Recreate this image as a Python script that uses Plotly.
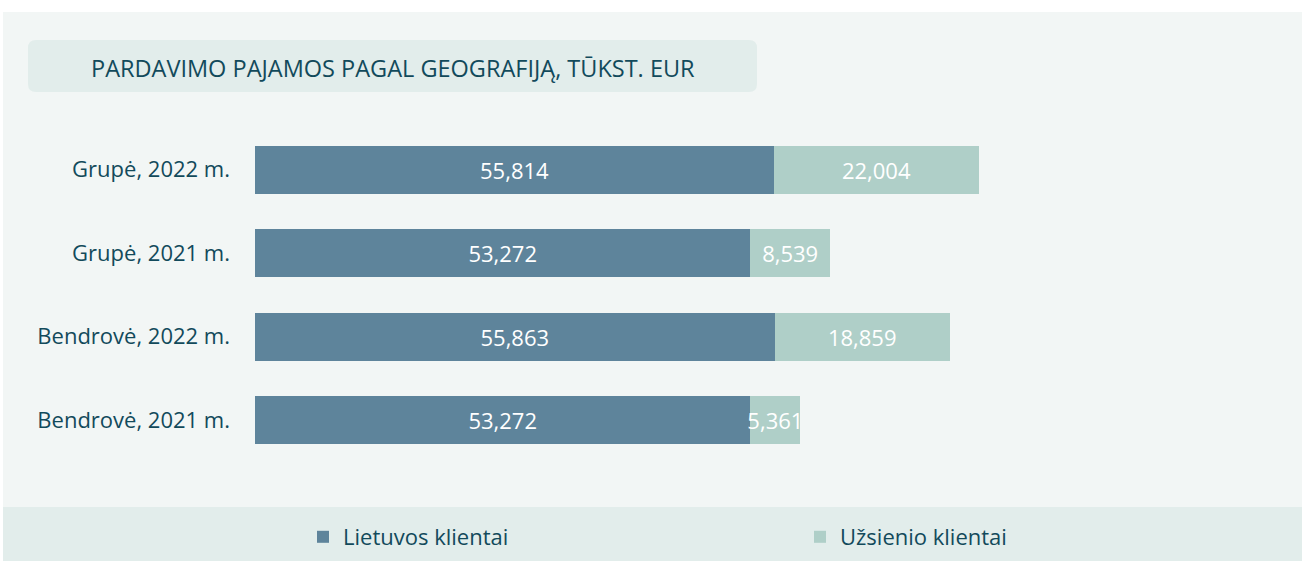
import plotly.graph_objects as go

categories = ["Grupė, 2022 m.", "Grupė, 2021 m.", "Bendrovė, 2022 m.", "Bendrovė, 2021 m."]
lietuvos = [55814, 53272, 55863, 53272]
uzsienio = [22004, 8539, 18859, 5361]
series_names = ["Lietuvos klientai", "Užsienio klientai"]
title_text = "PARDAVIMO PAJAMOS PAGAL GEOGRAFIJĄ, TŪKST. EUR"

W, H = 1302, 561
ML, MR = 255, 24
PW = W - ML - MR
PLOT_TOP, PLOT_BOT = 128, 462   # pixel rows occupied by the bar area

def px(x):
    return (x - ML) / PW

def py(y):
    return (H - y) / H

FONT = "Open Sans"
TXT = "#124a5b"
DARK = "#5e849b"
LIGHT = "#afcfc8"
PANEL = "#f2f6f5"
BAND = "#e2edeb"

fig = go.Figure()
for name, vals, col in [(series_names[0], lietuvos, DARK), (series_names[1], uzsienio, LIGHT)]:
    fig.add_trace(go.Bar(
        y=categories, x=vals, name=name, orientation="h",
        marker=dict(color=col, line=dict(width=0)),
        text=[f"{v:,}" for v in vals], textposition="inside",
        insidetextanchor="middle", constraintext="none",
        textfont=dict(color="white", size=22, family=FONT),
        hoverinfo="skip",
    ))

# rounded title box path
x0, x1, y0, y1 = px(28), px(757), py(92), py(40)
rx, ry = 8 / PW, 8 / H
path = (f"M {x0+rx},{y0} L {x1-rx},{y0} Q {x1},{y0} {x1},{y0+ry} "
        f"L {x1},{y1-ry} Q {x1},{y1} {x1-rx},{y1} L {x0+rx},{y1} "
        f"Q {x0},{y1} {x0},{y1-ry} L {x0},{y0+ry} Q {x0},{y0} {x0+rx},{y0} Z")

shapes = [
    dict(type="rect", xref="paper", yref="paper", x0=px(3), x1=px(1302), y0=py(507), y1=py(12),
         fillcolor=PANEL, line=dict(width=0), layer="below"),
    dict(type="rect", xref="paper", yref="paper", x0=px(3), x1=px(1302), y0=py(561), y1=py(507),
         fillcolor=BAND, line=dict(width=0), layer="below"),
    dict(type="path", xref="paper", yref="paper", path=path,
         fillcolor=BAND, line=dict(width=0), layer="below"),
]

fig.update_layout(
    width=W, height=H,
    margin=dict(l=ML, r=MR, t=0, b=0, pad=0),
    paper_bgcolor="white", plot_bgcolor="rgba(0,0,0,0)",
    barmode="stack", bargap=0.425,
    font=dict(family=FONT, color=TXT),
    shapes=shapes,
    annotations=[dict(text=title_text, xref="paper", yref="paper", x=px(393), y=py(68),
                      xanchor="center", yanchor="middle", showarrow=False,
                      font=dict(size=23.5, color=TXT, family=FONT))],
    xaxis=dict(range=[0, 110000], visible=False, fixedrange=True),
    yaxis=dict(autorange="reversed", showgrid=False, zeroline=False, showline=False,
               domain=[py(PLOT_BOT), py(PLOT_TOP)],
               ticks="", tickfont=dict(size=22, color=TXT, family=FONT),
               ticklabelstandoff=24, fixedrange=True),
    legend=dict(orientation="h", x=px(303), y=py(537), xanchor="left", yanchor="middle",
                font=dict(size=22, color=TXT, family=FONT), bgcolor="rgba(0,0,0,0)",
                entrywidth=452, traceorder="normal", itemclick=False, itemdoubleclick=False),
    showlegend=True,
)

fig.write_html("out.html", config={"displayModeBar": False},
               post_script="document.body.style.margin='0px';")
